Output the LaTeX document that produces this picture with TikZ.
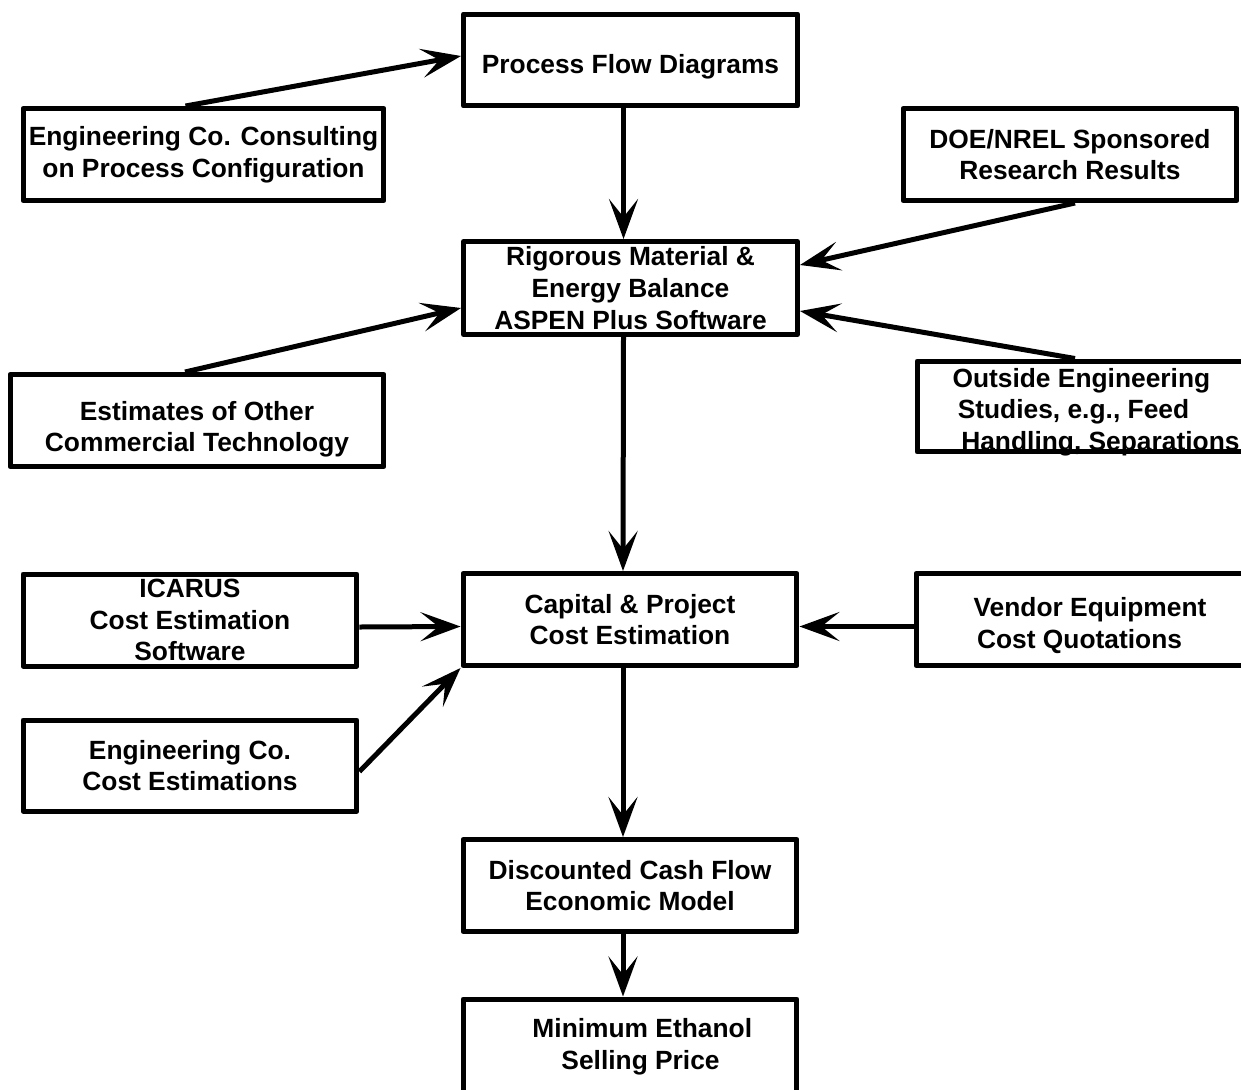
\documentclass[tikz,border=0pt]{standalone}
\usepackage{fontspec}
\setmainfont{Liberation Sans}
\usetikzlibrary{arrows.meta,calc}

\tikzset{
  box/.style={draw, line width=0.1cm, line join=round, minimum width=6.68cm,
    minimum height=1.84cm, inner sep=0pt, align=center,
    font=\bfseries\fontsize{15}{18}\selectfont,
    execute at begin node={\rule{0pt}{15pt}}},
  arr/.style={line width=0.1cm, -{Stealth[length=0.8cm,width=0.58cm,inset=0.36cm]}}
}

\begin{document}
\begin{tikzpicture}[x=0.02cm, y=-0.02cm]
    \clip (0,0) rectangle (1241,1089);

    \node [box] (pfd) at (630.5,60) {\rule{0pt}{18pt}Process Flow Diagrams};
    \node [box, minimum width=7.22cm] (eng) at (203.5,154.5) {Engineering Co. Consulting\\on Process Configuration};
    \node [box] (doe) at (1070,154.5) {DOE/NREL Sponsored\\Research Results};
    \node [box, minimum height=1.86cm] (rig) at (630.5,288) {Rigorous Material \&\\Energy Balance\\ASPEN Plus Software};
    \node [box, minimum width=7.48cm] (est) at (197,420.5) {\rule{0pt}{21pt}Estimates of Other\\Commercial Technology};
    \node [box, minimum width=7.16cm, minimum height=1.82cm, inner ysep=-3pt, align=left] (out) at (1096,406.5) {\rule{0pt}{17pt}Outside Engineering\\\hspace{3pt}Studies, e.g., Feed\\\hspace{5pt}Handling, Separations};

    \node [box, inner ysep=-2pt] (icarus) at (190,620) {ICARUS\\Cost Estimation\\Software};
    \node [box] (cap) at (630,619.5) {Capital \& Project\\Cost Estimation};
    \node [box, minimum width=6.96cm, align=left] (vendor) at (1090,619.5) {\rule{0pt}{18pt}Vendor Equipment\\\hspace{2pt}Cost Quotations};
    \node [box, minimum height=1.82cm] (engcost) at (190,765.5) {Engineering Co.\\Cost Estimations};

    \node [box] (dcf) at (630,885.5) {Discounted Cash Flow\\Economic Model};
    \node [box, minimum height=1.9cm] (mesp) at (630,1046.5) {\hspace{14pt}Minimum Ethanol\\\hspace{12pt}Selling Price};

    \draw [arr] ($(eng.north)+(-18,0)$) -- ($(pfd.west)+(0,-4)$);
    \draw [arr] ($(pfd.south)+(-7,0)$) -- ($(rig.north)+(-7,0)$);
    \draw [arr] ($(doe.south)+(5,0)$) -- ($(rig.east)+(0,-23)$);
    \draw [arr] ($(est.north)+(-12,0)$) -- ($(rig.west)+(0,20)$);
    \draw [arr] ($(out.north)+(-21,0)$) -- ($(rig.east)+(0,23)$);
    \draw [arr] ($(rig.south)+(-7,0)$) -- ($(cap.north)+(-7,0)$);

    \draw [arr] ($(icarus.east)+(0,7)$) -- ($(cap.west)+(0,7)$);
    \draw [arr] ($(engcost.east)+(0,6)$) -- (cap.south west);
    \draw [arr] ($(vendor.west)+(0,7)$) -- ($(cap.east)+(0,7)$);

    \draw [arr] ($(cap.south)+(-7,0)$) -- ($(dcf.north)+(-7,0)$);
    \draw [arr] ($(dcf.south)+(-7,0)$) -- ($(mesp.north)+(-7,0)$);
\end{tikzpicture}
\end{document}
